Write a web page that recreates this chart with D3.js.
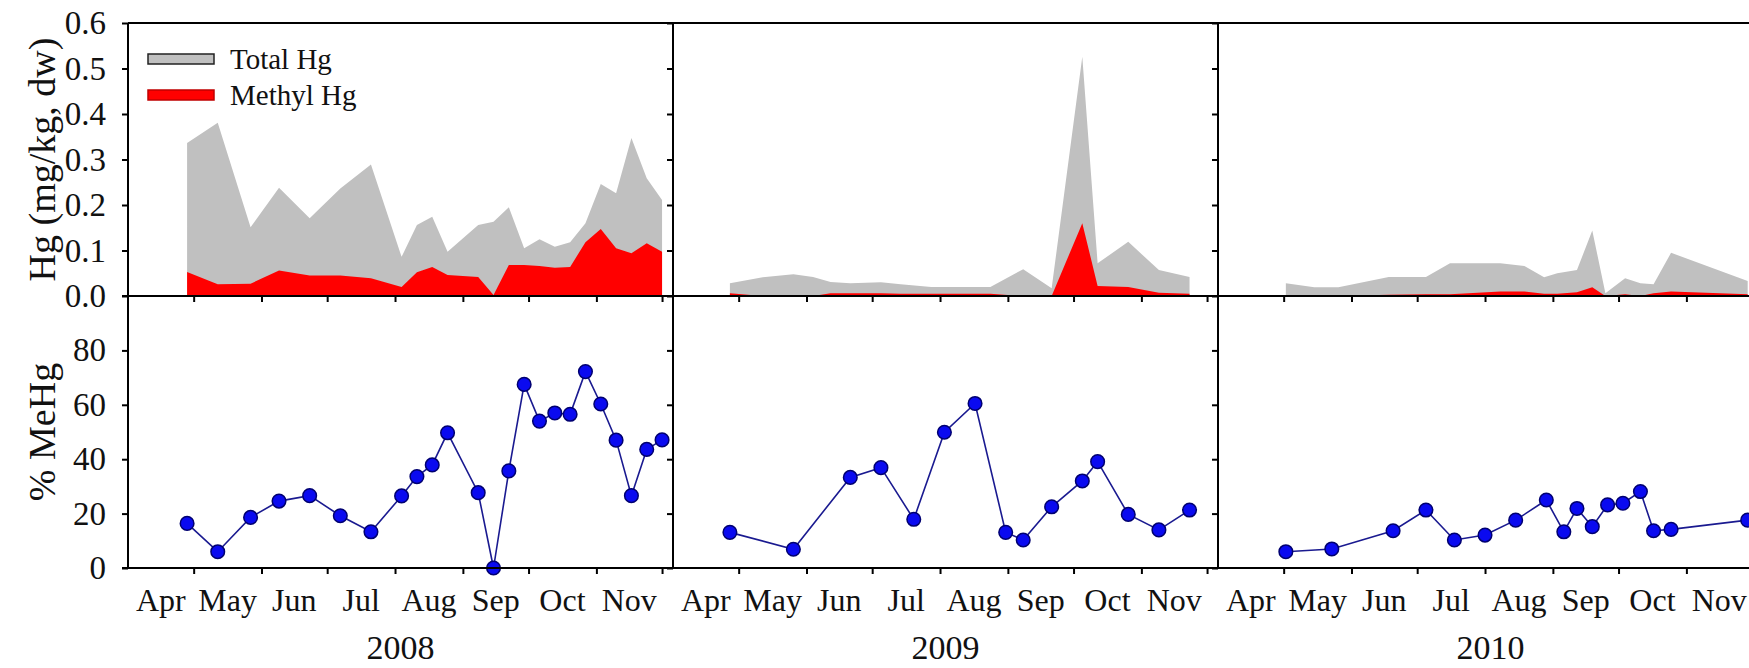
<!DOCTYPE html>
<html>
<head>
<meta charset="utf-8">
<script src="https://cdn.jsdelivr.net/npm/d3@7"></script>
<style>
  body { margin: 0; background: #fff; }
  svg { display: block; font-family: "Liberation Serif", "Times New Roman", serif; }
</style>
</head>
<body>
<svg id="chart"></svg>
<script>
const years = [2008, 2009, 2010];
const monthLabels = ["Apr", "May", "Jun", "Jul", "Aug", "Sep", "Oct", "Nov"];
const hgTicks = [0, 0.1, 0.2, 0.3, 0.4, 0.5, 0.6];
const pctTicks = [0, 20, 40, 60, 80];

// 2008 - Hg concentrations (mg/kg dw) and % MeHg share the same sampling dates
const hgDates2008 = ["04-28", "05-12", "05-27", "06-09", "06-23", "07-07", "07-21", "08-04", "08-11", "08-18", "08-25", "09-08",
                     "09-15", "09-22", "09-29", "10-06", "10-13", "10-20", "10-27", "11-03", "11-10", "11-17", "11-24", "12-01"];
const totalHg2008 = [0.336, 0.381, 0.151, 0.238, 0.171, 0.236, 0.289, 0.086, 0.156, 0.174, 0.097, 0.156,
                     0.163, 0.195, 0.105, 0.125, 0.108, 0.118, 0.160, 0.246, 0.226, 0.347, 0.259, 0.211];
const methylHg2008 = [0.053, 0.026, 0.027, 0.056, 0.045, 0.045, 0.039, 0.020, 0.052, 0.064, 0.046, 0.042,
                      0.002, 0.068, 0.068, 0.066, 0.062, 0.064, 0.118, 0.147, 0.105, 0.094, 0.116, 0.097];
const pctDates2008 = hgDates2008;
const pctMeHg2008 = [16.4, 6.0, 18.6, 24.6, 26.6, 19.2, 13.3, 26.5, 33.6, 37.9, 49.7, 27.7,
                     0, 35.7, 67.5, 54, 57, 56.5, 72.2, 60.3, 47, 26.6, 43.6, 47.1];

// 2009
const hgDates2009 = ["04-27", "05-12", "05-26", "06-04", "06-12", "06-21", "07-05", "07-14", "07-28", "08-24", "09-08",
                     "09-21", "10-05", "10-12", "10-26", "11-09", "11-23"];
const totalHg2009 = [0.028, 0.041, 0.048, 0.042, 0.031, 0.028, 0.030, 0.026, 0.020, 0.020, 0.059,
                     0.017, 0.526, 0.072, 0.119, 0.057, 0.042];
const methylHg2009 = [0.006, 0.0, 0.0, 0.0, 0.006, 0.006, 0.006, 0.005, 0.005, 0.005, 0.0,
                      0.0, 0.160, 0.022, 0.020, 0.007, 0.005];
const pctDates2009 = ["04-27", "05-26", "06-21", "07-05", "07-20", "08-03", "08-17", "08-31", "09-08", "09-21",
                      "10-05", "10-12", "10-26", "11-09", "11-23"];
const pctMeHg2009 = [13.1, 6.9, 33.3, 36.9, 17.9, 49.9, 60.5, 13.1, 10.3, 22.5, 32, 39.1, 19.7, 14, 21.3];

// 2010
const hgDates2010 = ["05-02", "05-15", "05-26", "06-18", "07-05", "07-16", "08-08", "08-19", "08-28", "09-03", "09-12",
                     "09-19", "09-25", "10-04", "10-11", "10-17", "10-25", "11-29"];
const totalHg2010 = [0.028, 0.019, 0.019, 0.042, 0.042, 0.072, 0.072, 0.066, 0.041, 0.050, 0.057,
                     0.144, 0.006, 0.039, 0.028, 0.026, 0.095, 0.033];
const methylHg2010 = [0, 0, 0, 0.003, 0.004, 0.004, 0.010, 0.010, 0.005, 0.005, 0.008,
                      0.019, 0.0, 0.004, 0.0, 0.006, 0.010, 0.004];
const pctDates2010 = ["05-02", "05-23", "06-20", "07-05", "07-18", "08-01", "08-15", "08-29", "09-06", "09-12",
                      "09-19", "09-26", "10-03", "10-11", "10-17", "10-25", "11-29"];
const pctMeHg2010 = [6.0, 7.0, 13.7, 21.3, 10.3, 12.1, 17.6, 25, 13.3, 21.9, 15.2, 23.2, 23.8, 28.1, 13.7, 14.2, 17.6];

const panels = [
    { year: 2008, hgDates: hgDates2008, total: totalHg2008, methyl: methylHg2008, pctDates: pctDates2008, pct: pctMeHg2008 },
    { year: 2009, hgDates: hgDates2009, total: totalHg2009, methyl: methylHg2009, pctDates: pctDates2009, pct: pctMeHg2009 },
    { year: 2010, hgDates: hgDates2010, total: totalHg2010, methyl: methylHg2010, pctDates: pctDates2010, pct: pctMeHg2010 }
];

const width = 1749;
const height = 668;
const left0 = 128;
const panelW = 545;
const font = "'Liberation Serif', 'Times New Roman', serif";
const parse = d3.timeParse("%Y-%m-%d");

const svg = d3.select("#chart").attr("width", width).attr("height", height);
svg.append("rect").attr("width", width).attr("height", height).attr("fill", "#fff");

const yTop = d3.scaleLinear().domain([0, 0.6]).range([296, 23]);
const yBot = d3.scaleLinear().domain([0, 100]).range([568, 296]);

panels.forEach((p, i) => {
    const x = d3.scaleTime()
        .domain([new Date(p.year, 3, 1), new Date(p.year, 11, 6)])
        .range([left0 + i * panelW, left0 + (i + 1) * panelW]);

    const hg = p.hgDates.map((d, k) => ({ date: parse(p.year + "-" + d), total: p.total[k], methyl: p.methyl[k] }));
    const pc = p.pctDates.map((d, k) => ({ date: parse(p.year + "-" + d), value: p.pct[k] }));

    const g = svg.append("g");

    // Total and methyl Hg areas
    g.append("path")
        .datum(hg)
        .attr("fill", "#c0c0c0")
        .attr("d", d3.area().x(d => x(d.date)).y0(yTop(0)).y1(d => yTop(d.total)));

    g.append("path")
        .datum(hg)
        .attr("fill", "#ff0000")
        .attr("d", d3.area().x(d => x(d.date)).y0(yTop(0)).y1(d => yTop(d.methyl)));

    // y axes
    const yAxTop = g.append("g")
        .attr("transform", `translate(${x.range()[0]},0)`)
        .call(d3.axisLeft(yTop).tickValues(hgTicks).tickSize(6).tickPadding(16)
            .tickFormat(i === 0 ? d3.format(".1f") : ""));
    const yAxBot = g.append("g")
        .attr("transform", `translate(${x.range()[0]},0)`)
        .call(d3.axisLeft(yBot).tickValues(pctTicks).tickSize(6).tickPadding(16)
            .tickFormat(i === 0 ? d3.format("d") : ""));

    // x axes (month ticks) under both panels
    const months = d3.timeMonth.range(new Date(p.year, 4, 1), new Date(p.year, 11, 2));
    [yTop(0), yBot(0)].forEach(yy => {
        g.append("g")
            .attr("transform", `translate(0,${yy})`)
            .call(d3.axisBottom(x).tickValues(months).tickSize(6).tickFormat(""));
    });

    g.selectAll(".domain").remove();
    g.selectAll(".tick line").attr("stroke", "#000").attr("stroke-width", 2);
    [yAxTop, yAxBot].forEach(ax => ax.attr("font-family", font).attr("font-size", 33).selectAll("text").attr("fill", "#111"));

    // month labels centered in each month
    g.append("g")
        .selectAll("text")
        .data(monthLabels)
        .enter().append("text")
        .attr("x", (m, k) => (x(new Date(p.year, 3 + k, 1)) + x(new Date(p.year, 4 + k, 1))) / 2)
        .attr("y", 611)
        .attr("text-anchor", "middle")
        .attr("font-size", 32)
        .attr("fill", "#111")
        .text(m => m);

    g.append("text")
        .attr("x", (x.range()[0] + x.range()[1]) / 2)
        .attr("y", 659)
        .attr("text-anchor", "middle")
        .attr("font-size", 34)
        .attr("fill", "#111")
        .text(p.year);

    // frame line on the left of each panel
    g.append("line")
        .attr("x1", x.range()[0]).attr("x2", x.range()[0])
        .attr("y1", yTop(0.6)).attr("y2", yBot(0))
        .attr("stroke", "#000").attr("stroke-width", 2);

    // % MeHg line and points
    g.append("path")
        .datum(pc)
        .attr("fill", "none")
        .attr("stroke", "#1a1a90")
        .attr("stroke-width", 1.6)
        .attr("d", d3.line().x(d => x(d.date)).y(d => yBot(d.value)));

    g.append("g")
        .selectAll("circle")
        .data(pc)
        .enter().append("circle")
        .attr("cx", d => x(d.date))
        .attr("cy", d => yBot(d.value))
        .attr("r", 6.8)
        .attr("fill", "#0a0af0")
        .attr("stroke", "#000070")
        .attr("stroke-width", 1.5);
});

// horizontal frame lines
[yTop(0.6), yTop(0), yBot(0)].forEach((yy, k) => {
    svg.append("line")
        .attr("x1", k === 0 ? left0 : left0 - 6).attr("x2", width)
        .attr("y1", yy).attr("y2", yy)
        .attr("stroke", "#000").attr("stroke-width", 2);
});

// axis titles
svg.append("text")
    .attr("transform", `translate(42,${(yTop(0) + yTop(0.6)) / 2}) rotate(-90)`)
    .attr("text-anchor", "middle")
    .attr("dominant-baseline", "central")
    .attr("font-size", 38)
    .attr("fill", "#111")
    .text("Hg (mg/kg, dw)");

svg.append("text")
    .attr("transform", `translate(42,${(yBot(0) + yBot(100)) / 2}) rotate(-90)`)
    .attr("text-anchor", "middle")
    .attr("dominant-baseline", "central")
    .attr("font-size", 38)
    .attr("fill", "#111")
    .text("% MeHg");

// legend
const legendItems = [
    { label: "Total Hg", fill: "#c0c0c0", stroke: "#222", y: 54 },
    { label: "Methyl Hg", fill: "#ff0000", stroke: "#c00000", y: 90 }
];
const legend = svg.append("g");
legend.selectAll("rect")
    .data(legendItems)
    .enter().append("rect")
    .attr("x", 148).attr("y", d => d.y)
    .attr("width", 66).attr("height", 10)
    .attr("fill", d => d.fill)
    .attr("stroke", d => d.stroke)
    .attr("stroke-width", 1.5);
legend.selectAll("text")
    .data(legendItems)
    .enter().append("text")
    .attr("x", 230).attr("y", d => d.y + 15)
    .attr("font-size", 29)
    .attr("fill", "#111")
    .text(d => d.label);
</script>
</body>
</html>
